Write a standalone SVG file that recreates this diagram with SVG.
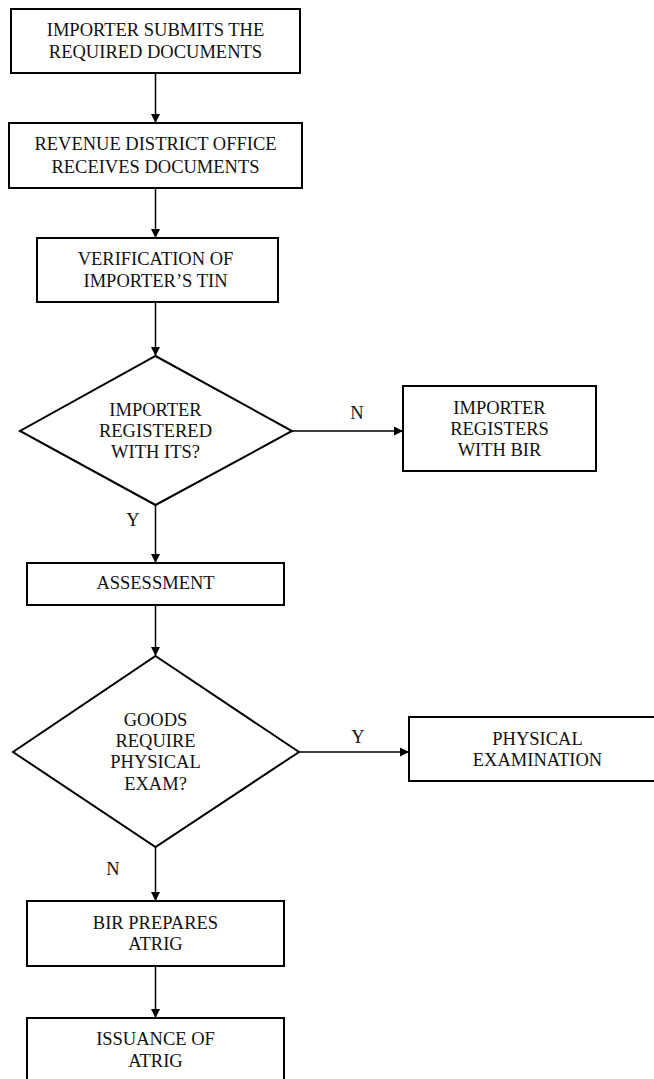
<svg xmlns="http://www.w3.org/2000/svg" width="654" height="1079" viewBox="0 0 654 1079">
  <style>
    .box { fill: #ffffff; stroke: #000000; stroke-width: 2; }
    .link { fill: none; stroke: #000000; stroke-width: 1.5; }
    text { font-family: "Liberation Serif", "Times New Roman", serif; font-size: 18.5px; fill: #111111; text-anchor: middle; }
  </style>
  <defs>
    <marker id="arrow" viewBox="0 0 10 10" refX="10" refY="5" markerWidth="10" markerHeight="9" markerUnits="userSpaceOnUse" orient="auto">
      <path d="M0,0 L10,5 L0,10 Z" fill="#000000"/>
    </marker>
  </defs>
  <rect width="654" height="1079" fill="#ffffff"/>

  <!-- connectors -->
  <g id="connectors">
    <line class="link" x1="155.5" y1="73" x2="155.5" y2="123" marker-end="url(#arrow)"/>
    <line class="link" x1="155.5" y1="188" x2="155.5" y2="238" marker-end="url(#arrow)"/>
    <line class="link" x1="155.5" y1="302" x2="155.5" y2="356" marker-end="url(#arrow)"/>
    <line class="link" x1="292" y1="431" x2="403" y2="431" marker-end="url(#arrow)"/>
    <text x="357" y="419">N</text>
    <line class="link" x1="155.5" y1="505" x2="155.5" y2="563" marker-end="url(#arrow)"/>
    <text x="133" y="526">Y</text>
    <line class="link" x1="155.5" y1="605" x2="155.5" y2="656" marker-end="url(#arrow)"/>
    <line class="link" x1="299" y1="752" x2="409" y2="752" marker-end="url(#arrow)"/>
    <text x="358" y="743">Y</text>
    <line class="link" x1="155.5" y1="847" x2="155.5" y2="901" marker-end="url(#arrow)"/>
    <text x="113" y="875">N</text>
    <line class="link" x1="155.5" y1="966" x2="155.5" y2="1018" marker-end="url(#arrow)"/>
  </g>

  <g id="submit">
    <rect class="box" x="11" y="9" width="289" height="64"/>
    <text x="155.5" y="36">IMPORTER SUBMITS THE</text>
    <text x="155.5" y="58">REQUIRED DOCUMENTS</text>
  </g>

  <g id="rdo-receives">
    <rect class="box" x="9" y="123" width="293" height="65"/>
    <text x="155.5" y="150">REVENUE DISTRICT OFFICE</text>
    <text x="155.5" y="173">RECEIVES DOCUMENTS</text>
  </g>

  <g id="verify-tin">
    <rect class="box" x="37" y="238" width="241" height="64"/>
    <text x="155.5" y="265">VERIFICATION OF</text>
    <text x="155.5" y="287">IMPORTER’S TIN</text>
  </g>

  <g id="registered-decision">
    <polygon class="box" points="155.5,356 292,431 155.5,505 20,431"/>
    <text x="155.5" y="416">IMPORTER</text>
    <text x="155.5" y="437">REGISTERED</text>
    <text x="155.5" y="458">WITH ITS?</text>
  </g>

  <g id="register-bir">
    <rect class="box" x="403" y="386" width="193" height="85"/>
    <text x="499.5" y="414">IMPORTER</text>
    <text x="499.5" y="435">REGISTERS</text>
    <text x="499.5" y="456">WITH BIR</text>
  </g>

  <g id="assessment">
    <rect class="box" x="27" y="563" width="257" height="42"/>
    <text x="155.5" y="589">ASSESSMENT</text>
  </g>

  <g id="exam-decision">
    <polygon class="box" points="155.5,656 299,752 155.5,847 13,752"/>
    <text x="155.5" y="726">GOODS</text>
    <text x="155.5" y="747">REQUIRE</text>
    <text x="155.5" y="768">PHYSICAL</text>
    <text x="155.5" y="790">EXAM?</text>
  </g>

  <g id="physical-exam">
    <rect class="box" x="409" y="717" width="258" height="64"/>
    <text x="537.5" y="745">PHYSICAL</text>
    <text x="537.5" y="766">EXAMINATION</text>
  </g>

  <g id="prepare-atrig">
    <rect class="box" x="27" y="901" width="257" height="65"/>
    <text x="155.5" y="929">BIR PREPARES</text>
    <text x="155.5" y="950">ATRIG</text>
  </g>

  <g id="issue-atrig">
    <rect class="box" x="27" y="1018" width="257" height="70"/>
    <text x="155.5" y="1045">ISSUANCE OF</text>
    <text x="155.5" y="1067">ATRIG</text>
  </g>
</svg>
